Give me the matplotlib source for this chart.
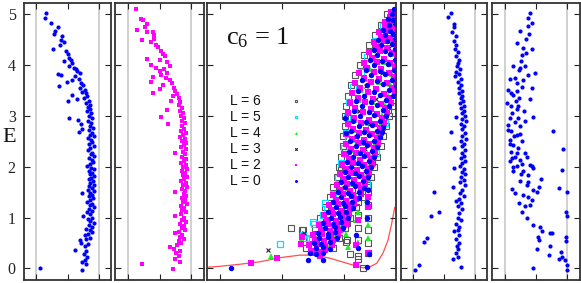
import matplotlib
matplotlib.use("Agg")
import matplotlib.pyplot as plt

plt.rcParams['mathtext.fontset'] = 'custom'
plt.rcParams['mathtext.rm'] = 'Liberation Serif'
plt.rcParams['mathtext.it'] = 'Liberation Serif:italic'

# ---------------- data: (E, x) pairs ----------------
panel1_pts = [
    (5.03,0.15),(4.93,0.13),(4.84,0.24),(4.76,0.35),(4.68,0.30),(4.62,0.29),(4.58,0.41),(4.50,0.40),
    (4.45,0.44),(4.40,0.38),(4.32,0.26),(4.28,0.48),(4.22,0.50),(4.15,0.53),(4.09,0.45),(4.10,0.56),
    (4.05,0.58),(3.98,0.52),(3.95,0.60),(3.92,0.63),(3.88,0.66),(3.83,0.35),(3.80,0.39),(3.85,0.70),
    (3.78,0.62),(3.72,0.68),(3.70,0.57),(3.66,0.49),(3.65,0.72),(3.60,0.75),(3.58,0.37),(3.55,0.70),
    (3.52,0.78),(3.48,0.74),(3.45,0.80),(3.42,0.57),(3.40,0.82),(3.36,0.77),(3.33,0.66),(3.30,0.51),
    (3.30,0.84),(3.26,0.80),(3.22,0.86),(3.18,0.83),
    (3.14,0.87),(3.10,0.82),(3.05,0.88),(3.00,0.85),(2.96,0.53),(2.95,0.90),(2.92,0.67),(2.90,0.83),
    (2.86,0.88),(2.84,0.72),(2.80,0.86),(2.76,0.91),(2.75,0.73),(2.72,0.84),(2.69,0.68),(2.66,0.89),
    (2.62,0.86),(2.60,0.92),(2.56,0.83),(2.52,0.88),(2.48,0.90),(2.44,0.85),(2.40,0.92),(2.36,0.87),
    (2.32,0.83),(2.28,0.90),(2.25,0.88),(2.22,0.92),(2.18,0.85),(2.14,0.89),(2.10,0.91),(2.06,0.86),
    (2.02,0.82),(1.98,0.88),(1.95,0.92),(1.92,0.84),(1.88,0.90),(1.85,0.86),(1.82,0.93),(1.78,0.88),
    (1.75,0.84),(1.72,0.91),(1.68,0.87),(1.65,0.92),(1.62,0.85),(1.58,0.89),(1.55,0.83),(1.52,0.92),
    (1.49,0.73),(1.48,0.87),(1.45,0.90),
    (1.42,0.84),(1.38,0.91),(1.35,0.87),(1.30,0.82),(1.27,0.90),(1.24,0.86),(1.20,0.93),(1.16,0.84),
    (1.13,0.89),(1.10,0.81),(1.07,0.86),(1.03,0.75),(1.00,0.90),(0.97,0.83),(0.94,0.87),(0.90,0.92),
    (0.86,0.84),(0.82,0.89),(0.78,0.80),(0.75,0.86),(0.72,0.90),(0.68,0.83),(0.65,0.78),(0.60,0.86),
    (0.57,0.80),(0.55,0.70),(0.50,0.72),(0.47,0.83),(0.43,0.78),(0.37,0.62),(0.34,0.80),(0.28,0.76),
    (0.22,0.82),(0.16,0.78),(0.12,0.74),(0.08,0.79),(-0.04,0.73),(0.00,0.06),
]

panel2_pts = [
    (5.10,0.13),(4.90,0.21),(4.88,0.24),(4.82,0.31),(4.75,0.27),(4.70,0.15),(4.66,0.30),(4.65,0.40),
    (4.60,0.42),(4.52,0.41),(4.50,0.22),(4.45,0.36),(4.40,0.45),(4.35,0.48),(4.28,0.52),(4.22,0.55),
    (4.18,0.58),(4.13,0.30),(4.10,0.50),(4.06,0.62),(4.00,0.37),(3.98,0.66),(3.95,0.45),(3.92,0.57),
    (3.88,0.50),(3.85,0.62),(3.80,0.53),(3.76,0.40),(3.74,0.60),(3.70,0.66),(3.66,0.36),(3.64,0.70),
    (3.60,0.56),(3.56,0.73),(3.53,0.50),(3.50,0.75),(3.45,0.40),(3.44,0.78),(3.40,0.72),(3.36,0.80),
    (3.30,0.68),(3.28,0.83),(3.22,0.80),(3.16,0.85),(3.12,0.62),(3.10,0.83),
    (3.05,0.87),(3.00,0.84),(2.98,0.53),(2.95,0.88),(2.90,0.85),(2.86,0.90),(2.84,0.64),(2.80,0.86),
    (2.75,0.89),(2.70,0.84),(2.66,0.91),(2.62,0.87),(2.58,0.82),(2.55,0.90),(2.50,0.86),(2.46,0.92),
    (2.42,0.88),(2.38,0.84),(2.34,0.91),(2.30,0.87),(2.28,0.75),(2.25,0.90),(2.20,0.86),(2.16,0.92),
    (2.12,0.88),(2.08,0.84),(2.04,0.91),(2.00,0.87),(1.96,0.93),(1.92,0.85),(1.88,0.90),(1.84,0.87),
    (1.80,0.93),(1.76,0.88),(1.72,0.84),(1.68,0.91),(1.64,0.87),(1.60,0.93),(1.56,0.86),(1.52,0.90),
    (1.50,0.74),
    (1.46,0.88),(1.42,0.92),(1.38,0.85),(1.34,0.90),(1.30,0.87),(1.26,0.93),(1.22,0.84),(1.18,0.89),
    (1.14,0.86),(1.10,0.92),(1.06,0.84),(1.03,0.74),(1.00,0.89),(0.96,0.86),(0.92,0.91),(0.88,0.83),
    (0.84,0.88),(0.80,0.85),(0.76,0.90),(0.72,0.81),(0.70,0.74),(0.66,0.86),(0.62,0.82),(0.58,0.88),
    (0.54,0.80),(0.50,0.84),(0.45,0.78),(0.42,0.66),(0.38,0.73),(0.34,0.82),(0.30,0.76),(0.24,0.80),
    (0.18,0.74),(0.12,0.82),(0.09,0.23),(-0.02,0.72),
]

panel4_pts = [
    (5.03,0.61),(4.94,0.57),(4.82,0.66),(4.76,0.67),(4.65,0.63),(4.58,0.69),(4.48,0.67),(4.40,0.70),
    (4.32,0.68),(4.25,0.73),(4.18,0.70),(4.10,0.74),(4.05,0.72),(3.98,0.71),(3.92,0.76),(3.86,0.70),
    (3.82,0.74),(3.78,0.68),(3.72,0.77),(3.66,0.73),(3.60,0.78),(3.55,0.75),(3.50,0.79),(3.45,0.74),
    (3.40,0.80),(3.35,0.77),(3.30,0.81),(3.25,0.76),(3.20,0.82),(3.15,0.78),(3.10,0.83),(3.05,0.79),
    (3.00,0.84),(2.98,0.70),(2.94,0.80),(2.90,0.85),(2.85,0.78),(2.80,0.83),(2.75,0.79),(2.69,0.62),
    (2.66,0.84),(2.60,0.80),(2.55,0.85),(2.50,0.78),(2.45,0.83),(2.40,0.80),(2.36,0.67),(2.32,0.84),
    (2.28,0.79),(2.22,0.83),(2.18,0.78),(2.12,0.84),(2.08,0.80),(2.02,0.76),(1.97,0.67),(1.95,0.83),
    (1.90,0.79),(1.85,0.84),(1.80,0.78),(1.74,0.82),(1.70,0.76),(1.64,0.84),(1.60,0.65),(1.55,0.80),
    (1.50,0.34),(1.48,0.76),(1.42,0.82),(1.36,0.74),(1.32,0.69),(1.28,0.78),(1.22,0.73),(1.16,0.79),
    (1.10,0.42),(1.08,0.75),(1.03,0.29),(1.00,0.72),(0.95,0.77),(0.88,0.70),(0.82,0.75),(0.76,0.72),
    (0.73,0.66),(0.66,0.75),(0.60,0.23),(0.58,0.70),(0.51,0.17),(0.50,0.74),(0.44,0.71),(0.38,0.73),
    (0.30,0.70),(0.22,0.72),(0.18,0.65),(0.06,0.10),(0.02,0.78),(-0.04,0.03),
]

panel5_pts = [
    (5.03,0.41),(4.93,0.37),(4.84,0.43),(4.77,0.37),(4.67,0.24),(4.62,0.39),(4.52,0.34),(4.44,0.19),
    (4.34,0.29),(4.32,0.43),(4.24,0.34),(4.08,0.26),(3.98,0.14),(3.90,0.23),(3.85,0.49),(3.80,0.38),
    (3.72,0.08),(3.65,0.19),(3.57,0.27),(3.52,0.05),(3.55,0.43),(3.42,0.14),(3.36,0.23),(3.34,0.41),
    (3.26,0.04),(3.19,0.11),(3.13,0.19),(3.09,0.31),(2.98,0.46),(2.96,0.08),(2.89,0.16),(2.83,0.05),
    (2.80,0.24),(2.70,0.11),(2.70,0.77),(2.63,0.19),(2.53,0.08),(2.50,0.27),(2.43,0.14),(2.37,0.22),
    (2.34,0.93),(2.30,0.11),(2.27,0.32),(2.20,0.16),(2.14,0.24),(2.11,0.08),(2.04,0.41),(2.01,0.43),
    (2.01,0.19),(1.94,0.92),(1.91,0.30),(1.91,0.14),(1.84,0.38),(1.76,0.58),(1.71,0.24),(1.64,0.35),
    (1.61,0.54),(1.58,0.86),(1.56,0.12),(1.55,0.46),(1.51,0.51),(1.50,0.99),(1.48,0.16),(1.41,0.37),
    (1.35,0.43),(1.28,0.23),(1.22,0.32),(1.10,0.27),(1.11,0.97),(1.03,0.99),(0.99,0.35),(0.86,0.46),
    (0.82,0.56),(0.74,0.59),(0.69,0.73),(0.70,0.76),(0.61,0.53),(0.61,0.98),(0.56,0.55),(0.53,0.97),
    (0.39,0.51),(0.43,0.73),(0.26,0.70),(0.33,0.89),(0.23,0.91),(0.18,0.86),(0.16,0.96),(0.07,1.00),
    (-0.03,1.00),(0.00,0.46),
    (3.45,0.10),(3.30,0.18),(3.05,0.12),(2.95,0.22),(2.72,0.06),(2.60,0.15),(2.65,0.25),(2.45,0.09),
    (2.28,0.20),(2.05,0.28),(2.18,0.12),(3.75,0.16),(3.95,0.25),(3.70,0.30),(3.50,0.20),(2.90,0.33),
    (2.20,0.35),(1.85,0.26),(3.20,0.22),(4.20,0.28),(3.98,0.32),(2.00,0.14),(1.70,0.38),(1.45,0.30),
    (1.98,0.45),(1.25,0.40),
]

# middle panel, series by L: (E, x) pairs
mid_L6 = [
    (0.76,1.32),(0.75,1.34),(0.30,2.39),(0.50,2.39),(0.75,2.39),(1.00,2.39),(1.25,2.39),(1.50,2.39),
    (1.65,2.39),(0.25,2.22),(0.55,2.22),(0.80,2.22),(1.05,2.22),(1.30,2.22),(1.55,2.22),(0.55,2.05),
    (0.90,2.05),(1.15,2.05),(2.10,2.45),(2.47,2.53),(2.79,2.61),(3.12,2.71),(1.94,1.96),
    (2.30,2.02),(0.29,2.10),(0.19,2.23),(0.52,2.04),(0.00,2.30),(0.80,1.15),
    (0.40,1.38),(0.40,1.82),(0.60,1.44),(0.60,1.92),(0.80,1.53),(0.80,2.02),(1.00,1.62),(1.00,2.10),
    (1.20,1.70),(1.20,2.19),(1.40,1.77),(1.40,2.30),(1.60,1.83),(1.60,2.38),(1.80,1.88),(1.80,2.44),
    (2.00,1.92),(2.00,2.49),(2.20,1.95),(2.20,2.54),(2.40,1.98),(2.40,2.59),(2.60,1.99),(2.60,2.63),
    (2.80,2.01),(2.80,2.68),(3.00,2.02),(3.00,2.73),(3.20,2.03),(3.20,2.78),(3.40,2.06),(3.60,2.11),
    (3.80,2.18),(4.00,2.26),(4.20,2.33),(4.40,2.41),(4.60,2.50),(4.80,2.60),(5.00,2.70),
]
mid_L5 = [
    (0.47,0.97),(0.65,1.34),(1.29,1.69),(1.05,1.67),(0.88,1.52),(0.92,1.50),(2.53,2.07),(0.60,1.38),
    (0.57,1.45),(0.87,1.60),(1.17,1.72),(1.47,1.83),(1.77,1.90),(2.07,1.96),(2.37,2.00),(2.67,2.03),
    (2.97,2.05),(3.27,2.08),(3.57,2.15),(3.87,2.27),(4.17,2.38),(4.47,2.50),(4.77,2.63),
    (1.07,2.07),(1.67,2.37),(2.27,2.52),(2.87,2.67),(3.47,2.82),
]
mid_L4 = [
    (0.24,0.82),(0.68,1.50),(0.67,2.04),(0.52,2.23),(1.34,2.37),(0.60,2.39),(1.10,2.22),(0.85,2.39),
    (0.42,2.07),(0.95,2.20),(0.55,1.30),
    (0.32,1.46),(0.42,1.75),(0.52,1.52),(0.62,1.84),(0.72,1.60),(0.82,1.93),(0.92,1.70),(1.02,2.02),
    (1.12,1.78),(1.22,2.10),(1.32,1.86),(1.42,2.20),(1.52,1.93),(1.62,2.28),(1.72,1.99),(1.82,2.34),
    (1.92,2.04),(2.02,2.39),(2.12,2.07),(2.22,2.44),(2.32,2.11),(2.42,2.49),(2.52,2.13),(2.62,2.53),
    (2.72,2.16),(2.82,2.58),(2.92,2.18),(3.02,2.62),(3.12,2.21),(3.22,2.66),(3.32,2.24),(3.42,2.71),
    (3.52,2.28),(3.62,2.74),(3.72,2.34),(3.82,2.77),(3.92,2.42),(4.02,2.78),(4.12,2.50),(4.22,2.80),
    (4.32,2.56),(4.42,2.82),(4.52,2.62),(4.62,2.80),(4.72,2.68),(4.82,2.82),(4.92,2.74),(5.02,2.84),
    (0.47,1.64),(0.87,1.84),(1.27,2.00),(1.67,2.14),(2.07,2.23),(2.47,2.31),(2.87,2.39),(3.27,2.47),
    (3.67,2.56),(4.07,2.64),(4.47,2.72),(4.87,2.78),
]
mid_L3 = [
    (0.37,0.77),(3.06,2.07),(3.29,2.10),(0.70,1.36),
    (0.59,1.58),(0.84,1.83),(1.09,1.81),(1.34,2.05),(1.59,2.00),(1.84,2.22),(2.09,2.11),(2.34,2.34),
    (2.59,2.19),(2.84,2.42),(3.09,2.24),(3.34,2.52),(3.59,2.35),(3.84,2.62),(4.09,2.50),(4.34,2.72),
    (4.59,2.62),(4.84,2.78),
]
mid_L2 = [
    (0.10,0.50),(0.21,0.92),(0.06,2.20),(0.30,1.50),(0.25,1.62),(0.45,2.20),(0.95,2.22),(1.40,2.39),
    (0.62,1.33),(0.48,1.30),(0.88,2.05),(1.20,2.39),(0.30,2.39),
    (0.35,1.47),(0.33,1.60),(0.36,1.70),
    (0.45,1.43),(0.47,1.57),(0.44,1.70),(0.46,1.81),
    (0.55,1.54),(0.53,1.68),(0.56,1.83),
    (0.65,1.50),(0.67,1.65),(0.64,1.79),(0.66,1.90),
    (0.75,1.63),(0.73,1.77),(0.76,1.93),
    (0.85,1.60),(0.87,1.74),(0.84,1.89),(0.86,2.00),
    (0.95,1.72),(0.93,1.87),(0.96,2.02),
    (1.05,1.68),(1.07,1.83),(1.04,1.97),(1.06,2.08),
    (1.15,1.80),(1.13,1.95),(1.16,2.10),
    (1.25,1.76),(1.27,1.91),(1.24,2.06),(1.26,2.17),
    (1.35,1.87),(1.33,2.03),(1.36,2.20),
    (1.45,1.83),(1.47,1.99),(1.44,2.15),(1.46,2.28),
    (1.55,1.94),(1.53,2.10),(1.56,2.28),
    (1.65,1.89),(1.67,2.05),(1.64,2.22),(1.66,2.34),
    (1.75,2.00),(1.73,2.16),(1.76,2.34),
    (1.85,1.94),(1.87,2.11),(1.84,2.28),(1.86,2.40),
    (1.95,2.04),(1.93,2.21),(1.96,2.39),
    (2.05,1.97),(2.07,2.15),(2.04,2.32),(2.06,2.45),
    (2.15,2.08),(2.13,2.26),(2.16,2.44),
    (2.25,2.00),(2.27,2.19),(2.24,2.37),(2.26,2.50),
    (2.35,2.11),(2.33,2.30),(2.36,2.49),
    (2.45,2.03),(2.47,2.22),(2.44,2.41),(2.46,2.55),
    (2.55,2.13),(2.53,2.33),(2.56,2.54),
    (2.65,2.04),(2.67,2.25),(2.64,2.46),(2.66,2.60),
    (2.75,2.15),(2.73,2.36),(2.76,2.58),
    (2.85,2.06),(2.87,2.28),(2.84,2.50),(2.86,2.65),
    (2.95,2.16),(2.93,2.40),(2.96,2.62),
    (3.05,2.07),(3.07,2.30),(3.04,2.54),(3.06,2.70),
    (3.15,2.18),(3.13,2.43),(3.16,2.66),
    (3.25,2.10),(3.27,2.34),(3.24,2.59),(3.26,2.76),
    (3.35,2.22),(3.33,2.47),(3.36,2.72),
    (3.45,2.13),(3.47,2.39),(3.44,2.65),(3.46,2.82),
    (3.55,2.26),(3.53,2.52),(3.56,2.77),
    (3.65,2.18),(3.67,2.43),(3.64,2.69),(3.66,2.84),
    (3.75,2.32),(3.73,2.56),(3.76,2.80),
    (3.85,2.25),(3.87,2.48),(3.84,2.72),(3.86,2.86),
    (3.95,2.38),(3.93,2.60),(3.96,2.83),
    (4.05,2.33),(4.07,2.53),(4.04,2.75),(4.06,2.86),
    (4.15,2.45),(4.13,2.65),(4.16,2.85),
    (4.25,2.40),(4.27,2.58),(4.24,2.78),(4.26,2.87),
    (4.35,2.52),(4.33,2.70),(4.36,2.86),
    (4.45,2.48),(4.47,2.64),(4.44,2.80),
    (4.55,2.59),(4.53,2.74),
    (4.65,2.57),(4.67,2.70),(4.64,2.82),
    (4.75,2.67),(4.73,2.79),
    (4.85,2.66),(4.87,2.76),
    (4.95,2.75),(4.93,2.84),
    (5.05,2.76),(5.07,2.82),
]
mid_L0 = [
    (0.00,0.18),(0.16,1.42),(0.16,1.67),(0.03,2.37),(0.29,2.40),(0.65,2.20),(2.96,2.02),(2.66,2.04),
    (2.69,2.61),(1.54,2.39),(1.00,2.38),(1.30,2.38),(0.40,2.22),
    (0.30,1.45),(0.28,1.55),(0.31,1.66),
    (0.40,1.55),(0.42,1.67),(0.39,1.77),
    (0.50,1.52),(0.48,1.63),(0.51,1.78),
    (0.60,1.60),(0.62,1.75),(0.59,1.88),
    (0.70,1.58),(0.68,1.74),(0.71,1.86),
    (0.80,1.70),(0.82,1.85),(0.79,1.98),
    (0.90,1.67),(0.88,1.83),(0.91,1.96),
    (1.00,1.79),(1.02,1.93),(0.99,2.06),
    (1.10,1.75),(1.08,1.90),(1.11,2.04),
    (1.20,1.87),(1.22,2.01),(1.19,2.14),
    (1.30,1.83),(1.28,1.99),(1.31,2.13),
    (1.40,1.95),(1.42,2.11),(1.39,2.25),
    (1.50,1.91),(1.48,2.07),(1.51,2.24),
    (1.60,2.01),(1.62,2.18),(1.59,2.33),
    (1.70,1.96),(1.68,2.13),(1.71,2.30),
    (1.80,2.07),(1.82,2.24),(1.79,2.39),
    (1.90,2.01),(1.88,2.18),(1.91,2.36),
    (2.00,2.11),(2.02,2.29),(1.99,2.44),
    (2.10,2.05),(2.08,2.22),(2.11,2.40),
    (2.20,2.15),(2.22,2.33),(2.19,2.49),
    (2.30,2.08),(2.28,2.26),(2.31,2.45),
    (2.40,2.19),(2.42,2.37),(2.39,2.54),
    (2.50,2.10),(2.48,2.30),(2.51,2.49),
    (2.60,2.21),(2.62,2.41),(2.59,2.58),
    (2.70,2.12),(2.68,2.33),(2.71,2.54),
    (2.80,2.24),(2.82,2.45),(2.79,2.63),
    (2.90,2.14),(2.88,2.36),(2.91,2.58),
    (3.00,2.26),(3.02,2.49),(2.99,2.68),
    (3.10,2.16),(3.08,2.40),(3.11,2.63),
    (3.20,2.29),(3.22,2.53),(3.19,2.73),
    (3.30,2.19),(3.28,2.43),(3.31,2.68),
    (3.40,2.33),(3.42,2.58),(3.39,2.79),
    (3.50,2.23),(3.48,2.48),(3.51,2.73),
    (3.60,2.38),(3.62,2.63),(3.59,2.84),
    (3.70,2.29),(3.68,2.53),(3.71,2.78),
    (3.80,2.44),(3.82,2.67),(3.79,2.86),
    (3.90,2.35),(3.88,2.58),(3.91,2.80),
    (4.00,2.49),(4.02,2.71),(3.99,2.87),
    (4.10,2.42),(4.08,2.62),(4.11,2.82),
    (4.20,2.54),(4.22,2.74),
    (4.30,2.48),(4.28,2.66),(4.31,2.83),
    (4.40,2.60),(4.42,2.77),
    (4.50,2.55),(4.48,2.70),(4.51,2.83),
    (4.60,2.66),(4.62,2.79),
    (4.70,2.63),(4.68,2.75),
    (4.80,2.72),(4.82,2.84),
    (4.90,2.71),(4.88,2.79),
    (5.00,2.78),
    (5.10,2.80),
]

red_x = [-0.21, 0.0, 0.32, 0.65, 0.97, 1.29, 1.53, 1.77, 2.02, 2.18, 2.31, 2.42, 2.53, 2.63, 2.71, 2.77, 2.82]
red_E = [0.02, 0.04, 0.08, 0.13, 0.21, 0.26, 0.26, 0.20, 0.11, 0.05, 0.01, 0.03, 0.10, 0.30, 0.55, 0.88, 1.20]

legend_labels = ["L = 6", "L = 5", "L = 4", "L = 3", "L = 2", "L = 0"]
y_ticks = [0, 1, 2, 3, 4, 5]

# ---------------- layout ----------------
W, H = 581, 283
fig = plt.figure(figsize=(W / 100, H / 100), dpi=100)
top_px, bot_px = 2.7, 280
panels_px = [(24, 111), (115, 204), (207, 396), (401, 487), (492, 580)]
YLIM = (-0.23, 5.23)
serif = 'Liberation Serif'

axes = []
for i, (l, r) in enumerate(panels_px):
    ax = fig.add_axes([l / W, (H - bot_px) / H, (r - l) / W, (bot_px - top_px) / H])
    ax.set_ylim(*YLIM)
    ax.set_yticks(y_ticks)
    if i == 2:
        ax.set_xlim(-0.21, 2.84)
        ax.set_xticks([0, 1, 2])
    else:
        ax.set_xlim(-0.2, 1.2)
        ax.set_xticks([0, 0.5, 1])
        for xv in (0, 1):
            ax.axvline(xv, color='#c8c8c8', lw=1.2, zorder=0)
    ax.tick_params(direction='in', length=4, width=0.8, top=True, right=True,
                   labelbottom=False, labelleft=(i == 0), colors='#222222')
    for s in ax.spines.values():
        s.set_linewidth(1.3)
        s.set_color('#333333')
    if i == 0:
        for lab in ax.get_yticklabels():
            lab.set_fontfamily(serif)
            lab.set_fontsize(11.5)
            lab.set_color('#222222')
        ax.tick_params(axis='y', pad=6)
    axes.append(ax)

def unzip(pts):
    return [p[1] for p in pts], [p[0] for p in pts]

x, e = unzip(panel1_pts)
axes[0].plot(x, e, 'o', color='#0000ff', ms=3.0, mew=0)
x, e = unzip(panel2_pts)
axes[1].plot(x, e, 's', color='#ff00ff', ms=3.0, mew=0)
x, e = unzip(panel4_pts)
axes[3].plot(x, e, 'o', color='#0000ff', ms=3.0, mew=0)
x, e = unzip(panel5_pts)
axes[4].plot(x, e, 'o', color='#0000ff', ms=3.0, mew=0)

am = axes[2]
styles = [
    (mid_L6, dict(marker='s', ls='none', mfc='none', mec='#555555', ms=3.8, mew=0.8)),
    (mid_L5, dict(marker='s', ls='none', mfc='none', mec='#00e5ff', ms=3.9, mew=0.9)),
    (mid_L4, dict(marker='^', ls='none', color='#22ee22', ms=4.0, mew=0)),
    (mid_L3, dict(marker='x', ls='none', color='#222222', ms=3.2, mew=0.8)),
    (mid_L2, dict(marker='s', ls='none', color='#ff00ff', ms=3.8, mew=0)),
    (mid_L0, dict(marker='o', ls='none', color='#0000ff', ms=3.9, mew=0)),
]
am.plot(red_x, red_E, '-', color='#ff3030', lw=0.9, alpha=0.85, zorder=1)
for pts, st in styles:
    x, e = unzip(pts)
    am.plot(x, e, zorder=2, **st)

# legend (text + marker sample)
row_y = [0.646, 0.589, 0.531, 0.472, 0.415, 0.358]
for lab, (_, st), yy in zip(legend_labels, styles, row_y):
    am.text(0.122, yy, lab, transform=am.transAxes, fontsize=10, family='Liberation Sans',
            va='center', ha='left', color='#111111')
    st2 = dict(st)
    st2['ms'] = st2['ms'] * 0.55
    am.plot([0.471], [yy], transform=am.transAxes, **st2)

am.text(0.10, 0.85, r"c$_6$ = 1", transform=am.transAxes, fontsize=19, family=serif,
        va='baseline', ha='left', color='#111111')

fig.text(8.8 / W, (H - 137) / H, "E", fontsize=16, family=serif, ha='center', va='center',
         color='#111111')

fig.savefig("out.png", dpi=100)
